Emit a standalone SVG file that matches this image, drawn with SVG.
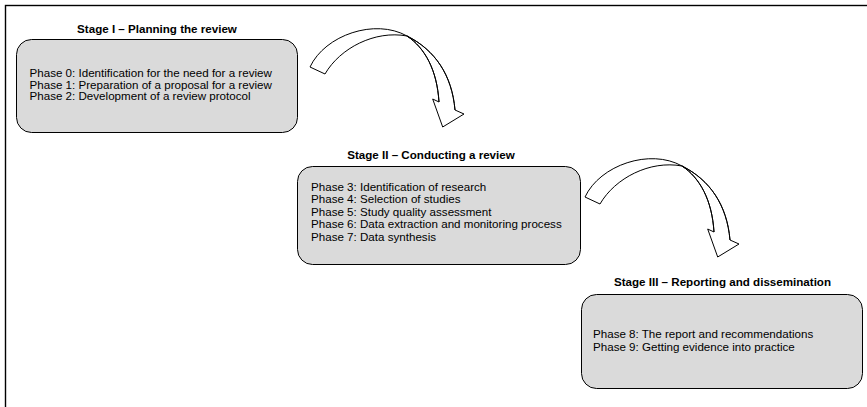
<svg xmlns="http://www.w3.org/2000/svg" width="867" height="407" viewBox="0 0 867 407">
  <defs>
    <style>
      .frame { fill: none; stroke: #000; stroke-width: 1.4; }
      .box { fill: #dadada; stroke: #000; stroke-width: 1; }
      .title { font-family: "Liberation Sans", Arial, sans-serif; font-size: 11.6px; font-weight: bold; fill: #000; text-anchor: middle; }
      .phase { font-family: "Liberation Sans", Arial, sans-serif; font-size: 11.6px; fill: #000; }
      .arrow { fill: #fff; stroke: #000; stroke-width: 1; stroke-linejoin: miter; }
      .arrow-line { fill: none; stroke: #000; stroke-width: 1; }
    </style>
    <!-- curved block arrow (twisted band with a downward head) -->
    <g id="curved-arrow">
      <path class="arrow" d="M310,67 C325,35 375,18 407,36 C425,48 437,70 439,102 L432.7,99 L442.7,127 L464,114 L455,110 C452,75 435,50 407,36 C375,30 340,48 325,74 Z"/>
      <path class="arrow-line" d="M407,36 C425,48 437,70 439,102"/>
      <path class="arrow-line" d="M407,36 C435,50 452,75 455,110"/>
    </g>
  </defs>

  <rect class="frame" x="5.5" y="5.5" width="900" height="500"/>

  <g id="stage1">
    <text class="title" x="157" y="33">Stage I – Planning the review</text>
    <rect class="box" x="16.5" y="39.5" width="281" height="93" rx="15" ry="15"/>
    <text class="phase" x="29.5" y="77">Phase 0: Identification for the need for a review</text>
    <text class="phase" x="29.5" y="88.5">Phase 1: Preparation of a proposal for a review</text>
    <text class="phase" x="29.5" y="100">Phase 2: Development of a review protocol</text>
  </g>

  <g id="stage2">
    <text class="title" x="431" y="159">Stage II – Conducting a review</text>
    <rect class="box" x="297.5" y="166.5" width="283" height="98" rx="15" ry="15"/>
    <text class="phase" x="311" y="190.5">Phase 3: Identification of research</text>
    <text class="phase" x="311" y="203">Phase 4: Selection of studies</text>
    <text class="phase" x="311" y="215.5">Phase 5: Study quality assessment</text>
    <text class="phase" x="311" y="228">Phase 6: Data extraction and monitoring process</text>
    <text class="phase" x="311" y="240.5">Phase 7: Data synthesis</text>
  </g>

  <g id="stage3">
    <text class="title" x="722.5" y="286">Stage III – Reporting and dissemination</text>
    <rect class="box" x="581.5" y="294.5" width="281" height="94" rx="15" ry="15"/>
    <text class="phase" x="593" y="338">Phase 8: The report and recommendations</text>
    <text class="phase" x="593" y="351">Phase 9: Getting evidence into practice</text>
  </g>

  <g id="connectors">
    <use href="#curved-arrow"/>
    <use href="#curved-arrow" transform="translate(275,130)"/>
  </g>
</svg>
